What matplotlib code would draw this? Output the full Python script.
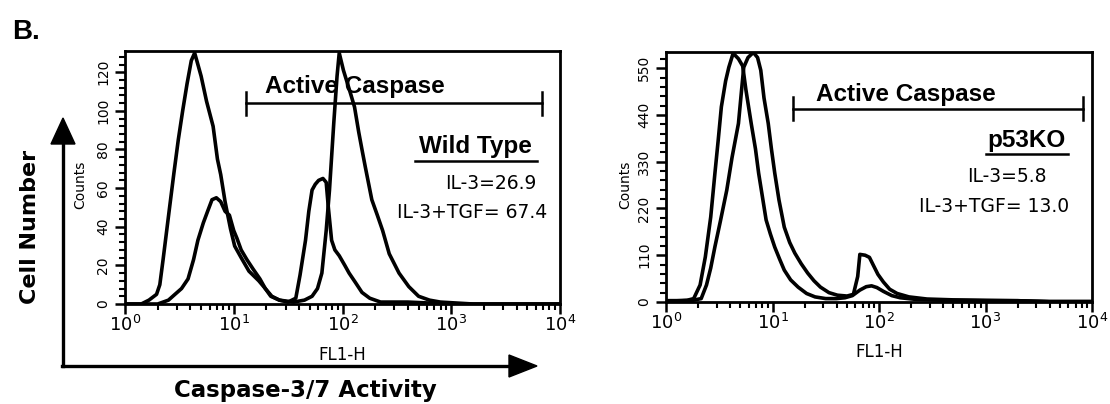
import numpy as np
import matplotlib.pyplot as plt
from matplotlib.ticker import MultipleLocator, LogLocator, NullFormatter

plt.rcParams['font.family'] = ['DejaVu Sans']
plt.rcParams['mathtext.default'] = 'regular'

# ---- data (FL1-H value, cell count) ----
# Wild type, IL-3 alone
wt_il3_fl1 = [1, 1.41, 1.66, 1.95, 2.09, 2.24, 2.57, 2.82, 3.09, 3.39,
              3.72, 4.07, 4.37, 4.68, 5.01, 5.62, 6.46, 7.08, 7.59, 8.32,
              9.33, 10.2, 11.7, 13.8, 17.0, 19.5, 22.4, 26.3, 31.6, 37.2,
              40.7, 45.7, 49.0, 52.5, 56.2, 60.3, 66.1, 70.8, 74.1, 79.4,
              85.1, 93.3, 105, 115, 132, 151, 178, 224, 398, 1000, 10000]
wt_il3_counts = [0, 0, 2, 5, 10, 23, 50, 68, 85, 100,
                 114, 126, 130, 124, 118, 105, 92, 75, 67, 53,
                 39, 30, 24, 17, 12, 8, 4, 2, 1, 3,
                 15, 33, 48, 59, 62, 64, 65, 63, 50, 33,
                 28, 25, 20, 16, 11, 6, 3, 1, 1, 0, 0]

# Wild type, IL-3 + TGF
wt_tgf_fl1 = [1, 2.0, 2.51, 2.88, 3.31, 3.80, 4.27, 4.68, 5.25, 5.75,
              6.31, 6.92, 7.59, 8.32, 9.12, 10.0, 10.7, 11.7, 13.2, 15.1,
              17.4, 19.5, 21.9, 26.3, 35.5, 44.7, 52.5, 58.9, 64.6, 70.8,
              75.9, 83.2, 89.1, 93.3, 102, 110, 120, 129, 141, 151,
              162, 186, 209, 234, 269, 331, 407, 501, 631, 794, 1585, 10000]
wt_tgf_counts = [0, 0, 2, 5, 8, 13, 23, 33, 42, 48,
                 54, 55, 53, 48, 46, 38, 34, 28, 23, 18,
                 13, 8, 4, 2, 1, 2, 4, 8, 16, 38,
                 59, 94, 118, 130, 121, 115, 108, 102, 89, 80,
                 71, 54, 46, 38, 26, 16, 9, 4, 2, 1, 0, 0]

# p53KO, IL-3 alone
ko_il3_fl1 = [1, 1.26, 1.58, 1.82, 2.09, 2.34, 2.63, 2.88, 3.09, 3.31,
              3.63, 3.89, 4.27, 4.79, 5.25, 5.62, 6.31, 6.92, 7.41, 8.13,
              8.71, 9.55, 10.5, 11.7, 12.9, 14.8, 17.4, 20.9, 25.1, 31.6,
              39.8, 47.9, 56.2, 66.1, 75.9, 85.1, 95.5, 110, 132, 158,
              224, 398, 1000, 2000, 3980, 10000]
ko_il3_counts = [3, 3, 4, 8, 40, 106, 200, 303, 380, 459,
                 520, 552, 585, 572, 555, 500, 420, 360, 303, 240,
                 193, 160, 129, 100, 75, 52, 35, 20, 12, 8,
                 8, 10, 15, 28, 36, 38, 34, 25, 15, 10,
                 6, 4, 3, 3, 1, 1]

# p53KO, IL-3 + TGF
ko_tgf_fl1 = [1, 1.41, 1.78, 2.14, 2.40, 2.63, 2.88, 3.24, 3.72, 4.17,
              4.79, 5.13, 5.37, 5.89, 6.61, 7.24, 7.76, 8.32, 9.12, 9.77,
              10.5, 11.5, 12.9, 14.5, 16.2, 18.6, 21.4, 24.5, 28.2, 33.9,
              40.7, 50.1, 57.5, 63.1, 66.1, 74.1, 81.3, 89.1, 97.7, 110,
              126, 148, 191, 282, 501, 1000, 2000, 3980, 10000]
ko_tgf_counts = [3, 3, 4, 8, 40, 80, 130, 190, 263, 340,
                 420, 500, 552, 575, 587, 575, 545, 480, 420, 360,
                 303, 240, 176, 140, 115, 90, 68, 50, 35, 22,
                 16, 14, 18, 60, 112, 110, 105, 85, 65, 47,
                 30, 20, 12, 7, 5, 4, 3, 1, 1]

# active caspase gates (FL1-H range)
wt_gate = [13, 6800]
ko_gate = [15.5, 8300]

wt_stats = ["IL-3=26.9", "IL-3+TGF= 67.4"]
ko_stats = ["IL-3=5.8", "IL-3+TGF= 13.0"]

W, H = 1110, 404
fig = plt.figure(figsize=(W / 100, H / 100), dpi=100)


def rect(x0, y0, x1, y1):
    # pixel box -> figure fraction
    return [x0 / W, 1 - y1 / H, (x1 - x0) / W, (y1 - y0) / H]


# overlay for the big arrows / labels
ov = fig.add_axes([0, 0, 1, 1], zorder=-1)
ov.set_xlim(0, W)
ov.set_ylim(H, 0)
ov.axis('off')

ax1 = fig.add_axes(rect(125, 51, 560, 304))
ax2 = fig.add_axes(rect(666, 52, 1092, 302))


def style(ax, ymax, major, minor):
    ax.set_xscale('log')
    ax.set_xlim(1, 1e4)
    ax.set_ylim(0, ymax)
    ax.xaxis.set_major_locator(LogLocator(base=10))
    ax.xaxis.set_minor_locator(LogLocator(base=10, subs=np.arange(2, 10)))
    ax.xaxis.set_minor_formatter(NullFormatter())
    ax.yaxis.set_major_locator(MultipleLocator(major))
    ax.yaxis.set_minor_locator(MultipleLocator(minor))
    for s in ax.spines.values():
        s.set_linewidth(2)
    ax.tick_params(which='major', direction='out', length=7, width=1.8)
    ax.tick_params(which='minor', direction='out', length=4.5, width=1.5)
    ax.tick_params(axis='x', labelsize=13, pad=1)
    ax.tick_params(axis='y', labelsize=10, pad=3.5, labelrotation=90)
    plt.setp(ax.get_yticklabels(), va='center')
    ax.text(0.5, -0.2, 'FL1-H', transform=ax.transAxes, ha='center',
            va='center', fontsize=12)


style(ax1, 131, 20, 4)
style(ax2, 588, 110, 22)

ax1.text(-0.104, 0.47, 'Counts', transform=ax1.transAxes, rotation=90,
         ha='center', va='center', fontsize=10)
ax2.text(-0.095, 0.47, 'Counts', transform=ax2.transAxes, rotation=90,
         ha='center', va='center', fontsize=10)

for x, y in [(wt_il3_fl1, wt_il3_counts), (wt_tgf_fl1, wt_tgf_counts)]:
    ax1.plot(x, y, color='black', lw=2.6)
for x, y in [(ko_il3_fl1, ko_il3_counts), (ko_tgf_fl1, ko_tgf_counts)]:
    ax2.plot(x, y, color='black', lw=2.6)

# gates
ax1.plot(wt_gate, [104, 104], color='black', lw=1.8)
for g in wt_gate:
    ax1.plot([g, g], [98, 110], color='black', lw=1.8)
ax2.plot(ko_gate, [454, 454], color='black', lw=1.8)
for g in ko_gate:
    ax2.plot([g, g], [428, 482], color='black', lw=1.8)

bold = dict(family='Liberation Sans', fontweight='bold', fontsize=17.5,
            va='center', ha='center')

ax1.text(0.529, 0.858, 'Active Caspase', transform=ax1.transAxes, **bold)
ax1.text(0.806, 0.621, 'Wild Type', transform=ax1.transAxes, **bold)
ax1.plot([0.667, 0.948], [0.565, 0.565], transform=ax1.transAxes,
         color='black', lw=1.8, clip_on=False)
ax1.text(0.947, 0.478, wt_stats[0], transform=ax1.transAxes, ha='right',
         va='center', fontsize=13.5)
ax1.text(0.970, 0.360, wt_stats[1], transform=ax1.transAxes, ha='right',
         va='center', fontsize=13.5)

ax2.text(0.562, 0.828, 'Active Caspase', transform=ax2.transAxes, **bold)
ax2.text(0.845, 0.648, 'p53KO', transform=ax2.transAxes, **bold)
ax2.plot([0.752, 0.944], [0.592, 0.592], transform=ax2.transAxes,
         color='black', lw=1.8, clip_on=False)
ax2.text(0.800, 0.50, ko_stats[0], transform=ax2.transAxes, ha='center',
         va='center', fontsize=13.5)
ax2.text(0.770, 0.38, ko_stats[1], transform=ax2.transAxes, ha='center',
         va='center', fontsize=13.5)

# big axis arrows and labels
ov.plot([63, 63], [366, 140], color='black', lw=2.4)
ov.fill([51, 75, 63], [144, 144, 118], color='black')
ov.plot([62, 512], [366, 366], color='black', lw=2.4)
ov.fill([509, 509, 537], [355, 377, 366], color='black')

ov.text(12, 32, 'B.', family='Liberation Sans', fontweight='bold',
        fontsize=20, ha='left', va='center')
ov.text(30, 227, 'Cell Number', rotation=90, fontweight='bold', fontsize=16,
        ha='center', va='center')
ov.text(305, 390, 'Caspase-3/7 Activity', fontweight='bold', fontsize=16.5,
        ha='center', va='center')

fig.savefig('out.png', dpi=100)
